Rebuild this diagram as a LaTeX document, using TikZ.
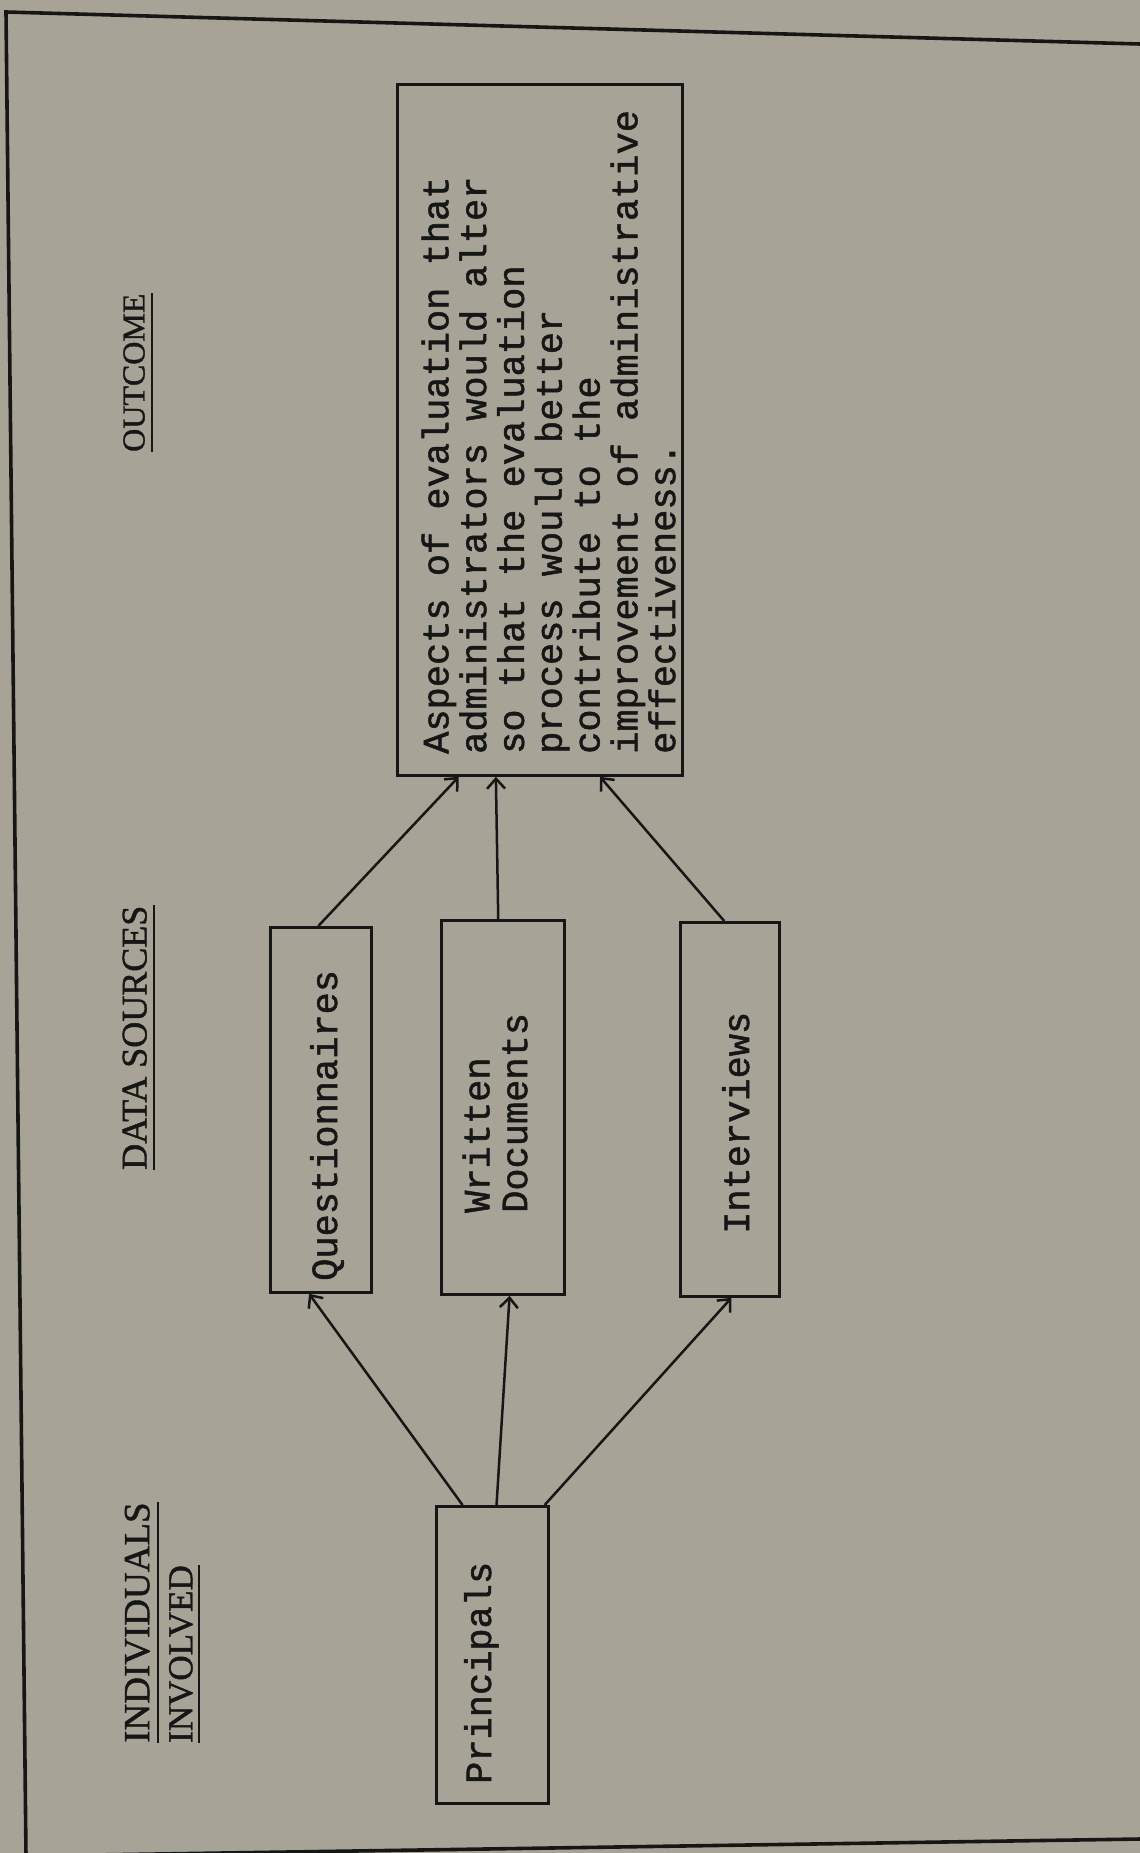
\documentclass[tikz,border=0pt]{standalone}
\usepackage{fontspec}
\setmainfont[FakeBold=1.2]{Liberation Serif}
\newfontfamily\twfont[FakeBold=1.4]{Liberation Mono}
\usetikzlibrary{calc,arrows.meta}
\definecolor{paper}{RGB}{167,164,151}
\definecolor{ink}{RGB}{22,22,22}
\begin{document}
\begin{tikzpicture}[x=1pt,y=-1pt,
  box/.style={draw=ink,line width=2.8pt,inner sep=0pt,anchor=north west},
  twtext/.style={rotate=90,inner sep=0pt,text=ink,align=left,
    font=\twfont\fontsize{37}{37.8}\selectfont},
  hdr/.style={rotate=90,anchor=south west,inner sep=0pt,text=ink},
  uline/.style={draw=ink,line width=2.6pt},
  frame/.style={draw=ink,line width=3.6pt},
  arr/.style={draw=ink,line width=2.5pt,-{Straight Barb[length=10pt,width=18pt,line width=2.5pt]}}]
\useasboundingbox (0,0) rectangle (1140,1853);
\fill[paper] (0,0) rectangle (1140,1853);
% frame
\coordinate (ftl) at (6,12);
\coordinate (ftr) at (1140,44);
\coordinate (fbl) at (26,1856);
\coordinate (fbr) at (1140,1839);
\draw[frame] (ftr) -- (ftl) -- (fbl);
\draw[frame] (fbl) -- (fbr);
% headers
\node[hdr,font=\fontsize{32}{36}\selectfont] (h1) at (145,452) {OUTCOME};
\node[hdr,font=\fontsize{36}{40}\selectfont] (h2) at (147,1170) {DATA SOURCES};
\node[hdr,font=\fontsize{37}{40}\selectfont] (h3) at (150,1743) {INDIVIDUALS};
\node[hdr,font=\fontsize{35}{40}\selectfont] (h4) at (193,1743) {INVOLVED};
\draw[uline] ([xshift=7pt]h1.south west) -- ([xshift=7pt]h1.south east);
\draw[uline] ([xshift=7pt]h2.south west) -- ([xshift=7pt]h2.south east);
\draw[uline] ([xshift=8pt]h3.south west) -- ([xshift=8pt]h3.south east);
\draw[uline] ([xshift=6pt]h4.south west) -- ([xshift=6pt]h4.south east);
% boxes
\node[box,minimum width=285pt,minimum height=691pt] (o) at (396,83) {};
\node[box,minimum width=101pt,minimum height=365pt] (q) at (269,926) {};
\node[box,minimum width=123pt,minimum height=374pt] (w) at (440,919) {};
\node[box,minimum width=99pt,minimum height=374pt] (i) at (679,921) {};
\node[box,minimum width=112pt,minimum height=297pt] (p) at (435,1505) {};
% texts
\node[twtext,anchor=west] (ot) at (548.5,754) {Aspects of evaluation that\\administrators would alter\\so that the evaluation\\process would better\\contribute to the\\improvement of administrative\\effectiveness.};
\node[twtext,anchor=base west] (qt) at (337,1281) {Questionnaires};
\node[twtext,anchor=west] (wt) at (495,1213) {Written\\Documents};
\node[twtext,anchor=base west] (it) at (749,1234) {Interviews};
\node[twtext,anchor=base west] (pt) at (491,1784) {Principals};
% connectors
\draw[arr] ($(p.north west)!0.24!(p.north east)$) -- ($(q.south west)!0.386!(q.south east)$);
\draw[arr] ($(p.north west)!0.536!(p.north east)$) -- ($(w.south west)!0.553!(w.south east)$);
\draw[arr] ($(p.north west)!0.955!(p.north east)$) -- ($(i.south west)!0.515!(i.south east)$);
\draw[arr] ($(q.north west)!0.475!(q.north east)$) -- ($(o.south west)!0.218!(o.south east)$);
\draw[arr] ($(w.north west)!0.463!(w.north east)$) -- ($(o.south west)!0.347!(o.south east)$);
\draw[arr] ($(i.north west)!0.444!(i.north east)$) -- ($(o.south west)!0.709!(o.south east)$);
\end{tikzpicture}
\end{document}
